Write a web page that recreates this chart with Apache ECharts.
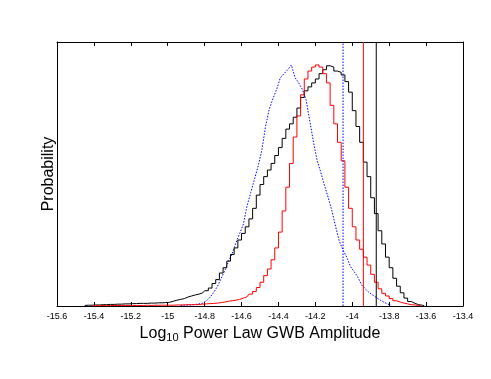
<!DOCTYPE html>
<html><head><meta charset="utf-8">
<script src="https://cdn.jsdelivr.net/npm/echarts@6/dist/echarts.min.js"></script>
<style>html,body{margin:0;padding:0;background:#fff}#c{width:491px;height:379px}</style>
</head><body><div id="c"></div>
<script>
const binWidth = 0.02;
const blackStart = -15.45;
const blackVals = [0.002,0.003,0.003,0.004,0.004,0.005,0.005,0.006,0.006,0.007,0.007,0.008,0.008,0.009,0.009,0.01,0.01,0.01,0.011,0.011,0.012,0.012,0.013,0.014,0.018,0.022,0.025,0.028,0.034,0.038,0.042,0.045,0.05,0.058,0.068,0.085,0.10,0.125,0.145,0.17,0.195,0.22,0.25,0.275,0.30,0.33,0.37,0.42,0.46,0.49,0.515,0.54,0.57,0.60,0.635,0.67,0.69,0.715,0.75,0.79,0.815,0.83,0.845,0.86,0.88,0.895,0.91,0.905,0.89,0.885,0.875,0.85,0.81,0.74,0.68,0.62,0.545,0.49,0.41,0.35,0.285,0.235,0.185,0.145,0.105,0.075,0.05,0.03,0.017,0.01,0.005,0.003,0.001];
const redStart = -15.41;
const redVals = [0.001,0.001,0.001,0.002,0.001,0.002,0.002,0.002,0.002,0.002,0.002,0.002,0.002,0.002,0.002,0.003,0.002,0.003,0.003,0.003,0.003,0.003,0.003,0.004,0.004,0.004,0.005,0.005,0.005,0.006,0.007,0.008,0.009,0.01,0.011,0.013,0.015,0.018,0.02,0.022,0.025,0.03,0.035,0.045,0.055,0.07,0.09,0.115,0.14,0.175,0.22,0.28,0.36,0.45,0.54,0.64,0.72,0.80,0.86,0.89,0.905,0.913,0.905,0.88,0.845,0.76,0.69,0.62,0.55,0.45,0.37,0.30,0.25,0.215,0.185,0.155,0.12,0.09,0.065,0.048,0.038,0.028,0.02,0.015,0.011,0.008,0.005,0.004,0.002,0.001];
const blueStart = -14.93;
const blueVals = [0.002,0.003,0.004,0.004,0.006,0.008,0.011,0.02,0.034,0.052,0.075,0.105,0.135,0.17,0.2,0.24,0.275,0.31,0.38,0.43,0.48,0.53,0.59,0.68,0.745,0.785,0.82,0.864,0.88,0.895,0.913,0.865,0.845,0.82,0.78,0.70,0.62,0.55,0.505,0.455,0.41,0.36,0.30,0.245,0.212,0.185,0.15,0.13,0.11,0.08,0.065,0.052,0.042,0.032,0.023,0.015,0.008,0.003];
const vlineBlue = -14.05, vlineRed = -13.94, vlineBlack = -13.87;
const xTicks = {min: -15.6, max: -13.4, interval: 0.2};

function hist(start, vals) {
  return vals.map((v, i) => [start + i * binWidth, v]);
}
function vline(x) { return [[x, 0], [x, 1]]; }

const font = '"Liberation Sans", Arial, sans-serif';
const chart = echarts.init(document.getElementById('c'), null, {renderer: 'canvas'});
chart.setOption({
  animation: false,
  backgroundColor: '#fff',
  grid: {left: 57, right: 28, top: 42, bottom: 73},
  xAxis: [{
    type: 'value', min: xTicks.min, max: xTicks.max, interval: xTicks.interval,
    axisLine: {onZero: false, lineStyle: {color: '#000', width: 1}},
    axisTick: {inside: true, length: 4, lineStyle: {color: '#000'}},
    axisLabel: {color: '#000', fontSize: 9, fontFamily: font, margin: 6,
      formatter: v => String(parseFloat(v.toFixed(1)))},
    splitLine: {show: false},
    name: 'Log{s|10} Power Law GWB Amplitude', nameLocation: 'middle', nameGap: 14,
    nameTextStyle: {color: '#000', fontSize: 16, fontFamily: font,
      rich: {s: {fontSize: 11, fontFamily: font, color: '#000', verticalAlign: 'bottom', padding: [8, 0, 0, 0]}}}
  }, {
    type: 'value', position: 'top', min: xTicks.min, max: xTicks.max, interval: xTicks.interval,
    axisLine: {onZero: false, lineStyle: {color: '#000', width: 1}},
    axisTick: {inside: true, length: 4, lineStyle: {color: '#000'}},
    axisLabel: {show: false}, splitLine: {show: false}
  }],
  yAxis: [{
    type: 'value', min: 0, max: 1,
    axisLine: {show: true, onZero: false, lineStyle: {color: '#000', width: 1}},
    axisTick: {show: false}, axisLabel: {show: false}, splitLine: {show: false},
    name: 'Probability', nameLocation: 'middle', nameGap: 0, nameRotate: 90,
    nameTextStyle: {color: '#000', fontSize: 16, fontFamily: font}
  }, {
    type: 'value', min: 0, max: 1, position: 'right',
    axisLine: {show: true, onZero: false, lineStyle: {color: '#000', width: 1}},
    axisTick: {show: false}, axisLabel: {show: false}, splitLine: {show: false}
  }],
  series: [
    {type: 'line', data: hist(blueStart, blueVals), symbol: 'none',
      lineStyle: {color: '#0000ff', width: 1, type: [1.5, 1.5]}},
    {type: 'line', step: 'middle', data: hist(blackStart, blackVals), symbol: 'none',
      lineStyle: {color: '#000', width: 1}},
    {type: 'line', step: 'middle', data: hist(redStart, redVals), symbol: 'none',
      lineStyle: {color: '#ff0000', width: 1}},
    {type: 'line', data: vline(vlineBlue), symbol: 'none', lineStyle: {color: '#0000ff', width: 1, type: [1.5, 1.5]}},
    {type: 'line', data: vline(vlineRed), symbol: 'none', lineStyle: {color: '#ff0000', width: 1}},
    {type: 'line', data: vline(vlineBlack), symbol: 'none', lineStyle: {color: '#000', width: 1}}
  ]
});
</script></body></html>
